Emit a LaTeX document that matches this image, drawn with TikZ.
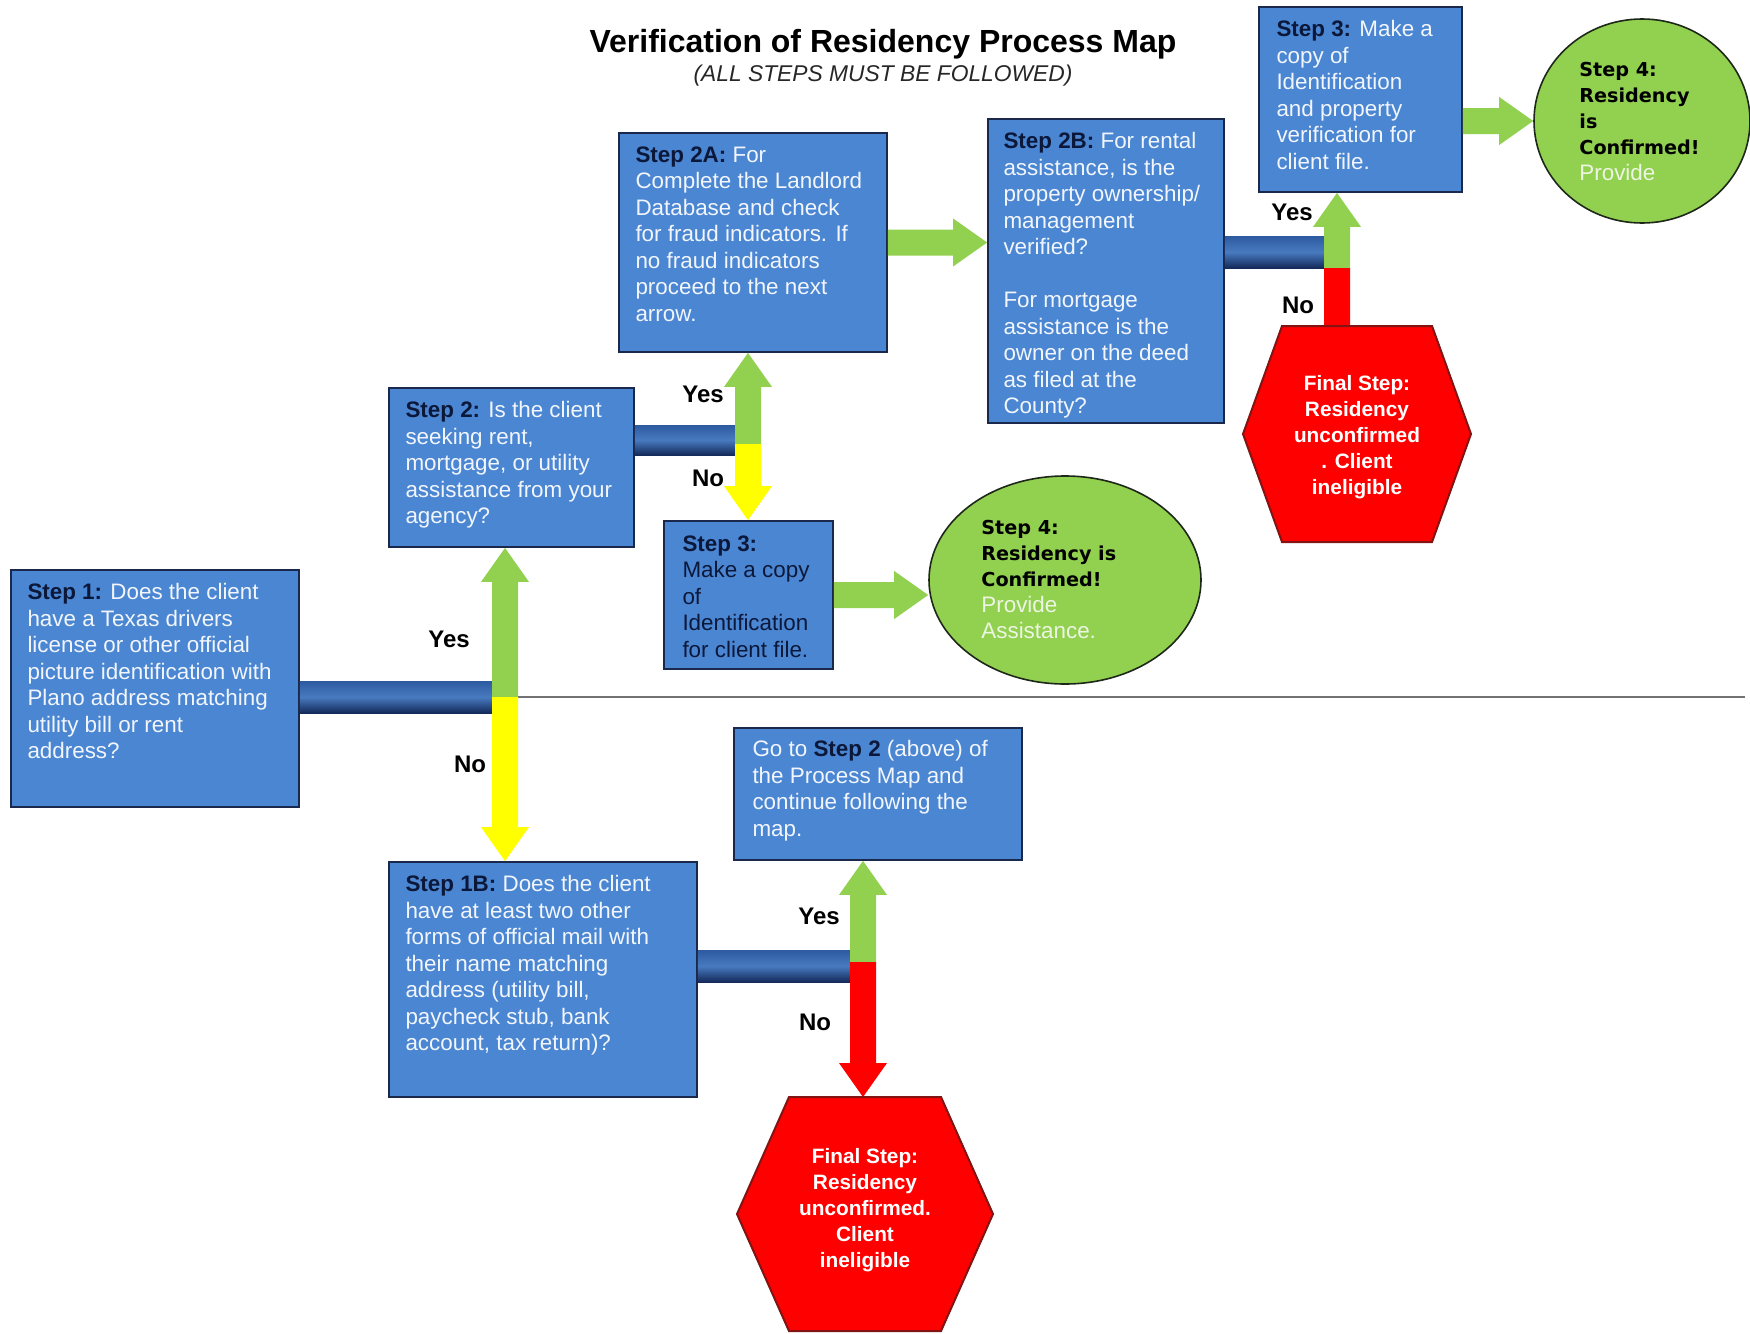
\documentclass[tikz,border=0pt]{standalone}
\usepackage{fontspec}
\setmainfont{Liberation Sans}
\newfontfamily\dvs{DejaVu Sans}
\usetikzlibrary{calc,shapes.geometric}
\definecolor{boxblue}{RGB}{74,134,210}
\definecolor{boxline}{RGB}{25,40,75}
\definecolor{stepc}{RGB}{12,24,58}
\definecolor{wtext}{RGB}{242,246,252}
\definecolor{agreen}{RGB}{146,208,80}
\definecolor{ayellow}{RGB}{255,255,0}
\definecolor{ared}{RGB}{255,0,0}
\definecolor{hexline}{RGB}{130,20,20}
\definecolor{barTop}{RGB}{45,90,160}
\definecolor{barMid}{RGB}{72,122,192}
\definecolor{barBot}{RGB}{20,42,90}
\definecolor{circline}{RGB}{30,40,25}
\definecolor{ctext}{RGB}{236,246,226}
\newcommand\stp[1]{\textcolor{stepc}{\bfseries #1}}
\newcommand\blockarrow[3]{%
  \coordinate (ahb) at ($(#2)!17pt!(#1)$);
  \fill[#3] ($(#1)!6.5pt!90:(#2)$) -- ($(ahb)!6.5pt!90:(#2)$) -- ($(ahb)!12pt!90:(#2)$) -- (#2)
    -- ($(ahb)!12pt!-90:(#2)$) -- ($(ahb)!6.5pt!-90:(#2)$) -- ($(#1)!6.5pt!-90:(#2)$) -- cycle;
}
\begin{document}
\begin{tikzpicture}[x=0.5pt,y=-0.5pt,
  box/.style={draw=boxline, fill=boxblue, line width=0.9pt, inner sep=0pt},
  txt/.style={anchor=north west, inner sep=0pt, align=left, text=wtext, font=\fontsize{11.2}{13.25}\selectfont},
  circ/.style={ellipse, draw=circline, fill=agreen, line width=0.8pt, inner sep=0pt},
  ctxt/.style={anchor=north west, inner sep=0pt, align=left, text=black, font=\dvs\bfseries\fontsize{9.6}{13}\selectfont},
  hexa/.style={fill=ared, draw=hexline, line width=1pt},
  hext/.style={align=center, text=white, inner sep=0pt, font=\bfseries\fontsize{10.4}{13}\selectfont},
  lbl/.style={font=\bfseries\fontsize{12}{14}\selectfont, text=black, inner sep=0pt},
  barshade/.style={top color=barTop, bottom color=barBot, middle color=barMid}]
\useasboundingbox (0,0) rectangle (1750,1333);

% title
\node[font=\bfseries\fontsize{16}{19}\selectfont] (title) at (883,44) {Verification of Residency Process Map};
\node[font=\itshape\fontsize{11.4}{14}\selectfont, text=black!85] (subtitle) at (883,76) {(ALL STEPS MUST BE FOLLOWED)};

% boxes
\node[box, minimum width=144pt, minimum height=118.5pt] (s1) at (155,688.5) {};
\node[box, minimum width=122.5pt, minimum height=79.5pt] (s2) at (511.5,467.5) {};
\node[box, minimum width=134pt, minimum height=109.5pt] (s2a) at (753,242.5) {};
\node[box, minimum width=118pt, minimum height=152pt] (s2b) at (1106,271) {};
\node[box, minimum width=101.5pt, minimum height=92.5pt] (s3r) at (1360.5,99.5) {};
\node[box, minimum width=84.5pt, minimum height=74pt] (s3m) at (748.5,595) {};
\node[box, minimum width=144pt, minimum height=66pt] (go) at (878,794) {};
\node[box, minimum width=154pt, minimum height=117.5pt] (s1b) at (543,979.5) {};

\node[txt] (s1t) at ([shift={(17,14)}]s1.north west) {\stp{Step 1:} Does the client\\have a Texas drivers\\license or other official\\picture identification with\\Plano address matching\\utility bill or rent\\address?};
\node[txt] (s2t) at ([shift={(17,14)}]s2.north west) {\stp{Step 2:} Is the client\\seeking rent,\\mortgage, or utility\\assistance from your\\agency?};
\node[txt] (s2at) at ([shift={(17,14)}]s2a.north west) {\stp{Step 2A:} For\\Complete the Landlord\\Database and check\\for fraud indicators. If\\no fraud indicators\\proceed to the next\\arrow.};
\node[txt] (s2bt) at ([shift={(16,14)}]s2b.north west) {\stp{Step 2B:} For rental\\assistance, is the\\property ownership/\\management\\verified?\\[13.25pt]For mortgage\\assistance is the\\owner on the deed\\as filed at the\\County?};
\node[txt] (s3rt) at ([shift={(18,14)}]s3r.north west) {\stp{Step 3:} Make a\\copy of\\Identification\\and property\\verification for\\client file.};
\node[txt, text=stepc] (s3mt) at ([shift={(19,15)}]s3m.north west) {\textbf{Step 3:}\\Make a copy\\of\\Identification\\for client file.};
\node[txt] (got) at ([shift={(19,13)}]go.north west) {Go to \stp{Step 2} (above) of\\the Process Map and\\continue following the\\map.};
\node[txt] (s1bt) at ([shift={(17,14)}]s1b.north west) {\stp{Step 1B:} Does the client\\have at least two other\\forms of official mail with\\their name matching\\address (utility bill,\\paycheck stub, bank\\account, tax return)?};

% circles
\node[circ, minimum width=108pt, minimum height=102pt] (c4r) at (1642,121) {};
\node[circ, minimum width=136pt, minimum height=104pt] (c4m) at (1065,580) {};
\node[ctxt] (c4rt) at ([shift={(-63,-59)}]c4r.center) {Step 4:\\Residency\\is\\Confirmed!\\{\rmfamily\mdseries\fontsize{11.2}{13}\selectfont\color{ctext}Provide}};
\node[ctxt] (c4mt) at ([shift={(-84,-60)}]c4m.center) {Step 4:\\Residency is\\Confirmed!\\{\rmfamily\mdseries\fontsize{11.2}{13}\selectfont\color{ctext}Provide}\\{\rmfamily\mdseries\fontsize{11.2}{13}\selectfont\color{ctext}Assistance.}};

% junctions
\coordinate (j1) at (505,697);
\coordinate (j2) at (748,440);
\coordinate (j3) at (1337,252);
\coordinate (j4) at (863,966);
\coordinate (lineend) at (1745,697);
\coordinate (h1c) at (1357,434);
\coordinate (h2c) at (865,1214);

% separator line
\draw[line width=0.8pt, draw=black!55] (j1) -- (lineend);

% bars
\shade[barshade] ($(s1.east |- j1)+(0,-16)$) rectangle ($(j1)+(0,16)$);
\shade[barshade] ($(s2.east |- j2)+(0,-15)$) rectangle ($(j2)+(0,15)$);
\shade[barshade] ($(s2b.east |- j3)+(0,-16)$) rectangle ($(j3)+(0,16)$);
\shade[barshade] ($(s1b.east |- j4)+(0,-16)$) rectangle ($(j4)+(0,16)$);

% decision arrows
\coordinate (t1u) at (j1 |- s2.south);
\coordinate (t1d) at (j1 |- s1b.north);
\blockarrow{j1}{t1u}{agreen}
\blockarrow{j1}{t1d}{ayellow}

\coordinate (j2s) at ($(j2)+(0,4)$);
\coordinate (t2u) at (j2 |- s2a.south);
\coordinate (t2d) at (j2 |- s3m.north);
\blockarrow{j2s}{t2u}{agreen}
\blockarrow{j2s}{t2d}{ayellow}

\coordinate (j3s) at ($(j3)+(0,16)$);
\coordinate (t3u) at (j3 |- s3r.south);
\coordinate (t3d) at ($(j3 |- h1c)+(0,-72)$);
\blockarrow{j3s}{t3u}{agreen}
\blockarrow{j3s}{t3d}{ared}

\coordinate (j4s) at ($(j4)+(0,-4)$);
\coordinate (t4u) at (j4 |- go.south);
\coordinate (t4d) at ($(j4 |- h2c)+(0,-117)$);
\blockarrow{j4s}{t4u}{agreen}
\blockarrow{j4s}{t4d}{ared}

% straight arrows
\coordinate (t5) at (s2b.west |- s2a.east);
\blockarrow{s2a.east}{t5}{agreen}
\coordinate (a6s) at (s3r.east |- c4r.west);
\blockarrow{a6s}{c4r.west}{agreen}
\coordinate (t7) at (c4m.west |- s3m.east);
\blockarrow{s3m.east}{t7}{agreen}

% hexagons
\filldraw[hexa] ($(h1c)+(-114,0)$) -- ($(h1c)+(-75,-108)$) -- ($(h1c)+(75,-108)$) -- ($(h1c)+(114,0)$) -- ($(h1c)+(75,108)$) -- ($(h1c)+(-75,108)$) -- cycle;
\node[hext] (h1) at ($(h1c)+(0,3)$) {Final Step:\\Residency\\unconfirmed\\. Client\\ineligible};
\filldraw[hexa] ($(h2c)+(-128,0)$) -- ($(h2c)+(-76,-117)$) -- ($(h2c)+(76,-117)$) -- ($(h2c)+(128,0)$) -- ($(h2c)+(76,117)$) -- ($(h2c)+(-76,117)$) -- cycle;
\node[hext] (h2) at ($(h2c)+(0,-4)$) {Final Step:\\Residency\\unconfirmed.\\Client\\ineligible};

% labels
\node[lbl] (y1) at (449,639) {Yes};
\node[lbl] (n1) at (470,764) {No};
\node[lbl] (y2) at (703,394) {Yes};
\node[lbl] (n2) at (708,478) {No};
\node[lbl] (y3) at (1292,212) {Yes};
\node[lbl] (n3) at (1298,305) {No};
\node[lbl] (y4) at (819,916) {Yes};
\node[lbl] (n4) at (815,1022) {No};
\end{tikzpicture}
\end{document}
